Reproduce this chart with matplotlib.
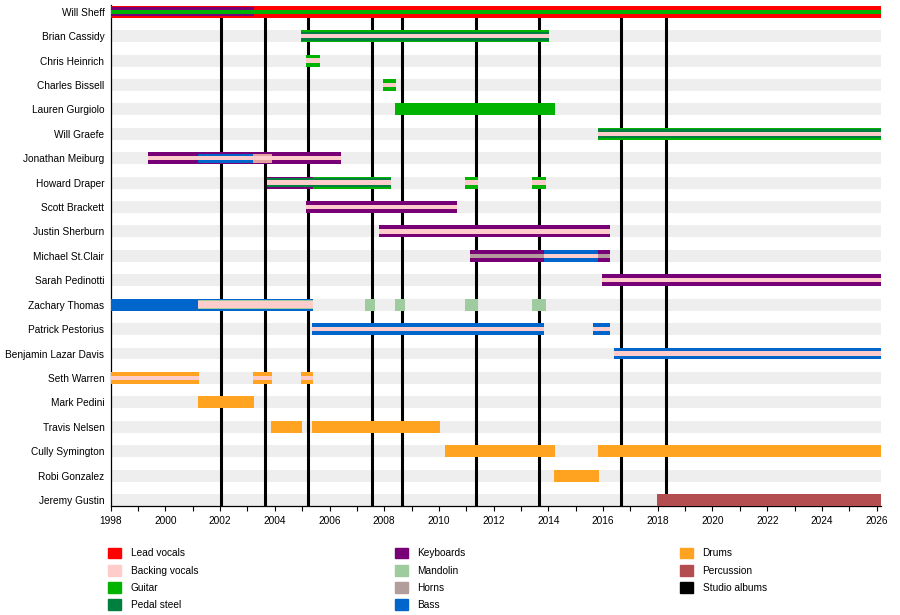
import matplotlib
matplotlib.use("Agg")
import matplotlib.pyplot as plt
import matplotlib.patches as mpatches
from matplotlib.ticker import MultipleLocator

plt.rcParams['font.family'] = ['Liberation Sans', 'DejaVu Sans']
FS = 7.3

members = ["Will Sheff", "Brian Cassidy", "Chris Heinrich", "Charles Bissell",
           "Lauren Gurgiolo", "Will Graefe", "Jonathan Meiburg", "Howard Draper",
           "Scott Brackett", "Justin Sherburn", "Michael St.Clair", "Sarah Pedinotti",
           "Zachary Thomas", "Patrick Pestorius", "Benjamin Lazar Davis", "Seth Warren",
           "Mark Pedini", "Travis Nelsen", "Cully Symington", "Robi Gonzalez", "Jeremy Gustin"]

colors = {
    "Lead vocals": "#ff0000",
    "Backing vocals": "#ffcccc",
    "Guitar": "#00b300",
    "Pedal steel": "#007f3f",
    "Keyboards": "#770077",
    "Mandolin": "#9fcc9f",
    "Horns": "#b39c9c",
    "Bass": "#0066cc",
    "Drums": "#ffa320",
    "Percussion": "#b34d50",
    "Studio albums": "#000000",
}
# short overlap section in Meiburg's bar
extra_colors = {"Horns/percussion": "#e3a0a0"}

start_year = 1998
end_year = 2026.16

# full height bars: (member, from, till, instrument)
main_bars = [
    ("Will Sheff", 1998, 2026.16, "Lead vocals"),
    ("Brian Cassidy", 2004.96, 2014.03, "Guitar"),
    ("Chris Heinrich", 2005.14, 2005.65, "Guitar"),
    ("Charles Bissell", 2007.96, 2008.42, "Guitar"),
    ("Lauren Gurgiolo", 2008.40, 2014.24, "Guitar"),
    ("Will Graefe", 2015.82, 2026.16, "Guitar"),
    ("Jonathan Meiburg", 1999.37, 2006.42, "Keyboards"),
    ("Howard Draper", 2003.72, 2005.38, "Keyboards"),
    ("Howard Draper", 2005.38, 2008.25, "Guitar"),
    ("Howard Draper", 2010.95, 2011.44, "Guitar"),
    ("Howard Draper", 2013.40, 2013.92, "Guitar"),
    ("Scott Brackett", 2005.14, 2010.66, "Keyboards"),
    ("Justin Sherburn", 2007.81, 2016.26, "Keyboards"),
    ("Michael St.Clair", 2011.14, 2013.85, "Keyboards"),
    ("Michael St.Clair", 2013.85, 2015.82, "Bass"),
    ("Michael St.Clair", 2015.82, 2016.26, "Keyboards"),
    ("Sarah Pedinotti", 2015.97, 2026.16, "Keyboards"),
    ("Zachary Thomas", 1998, 2005.38, "Bass"),
    ("Zachary Thomas", 2007.30, 2007.67, "Mandolin"),
    ("Zachary Thomas", 2008.40, 2008.76, "Mandolin"),
    ("Zachary Thomas", 2010.95, 2011.44, "Mandolin"),
    ("Zachary Thomas", 2013.40, 2013.92, "Mandolin"),
    ("Patrick Pestorius", 2005.36, 2013.85, "Bass"),
    ("Patrick Pestorius", 2015.64, 2016.26, "Bass"),
    ("Benjamin Lazar Davis", 2016.40, 2026.16, "Bass"),
    ("Seth Warren", 1998, 2001.23, "Drums"),
    ("Seth Warren", 2003.20, 2003.90, "Drums"),
    ("Seth Warren", 2004.96, 2005.39, "Drums"),
    ("Mark Pedini", 2001.19, 2003.24, "Drums"),
    ("Travis Nelsen", 2003.86, 2004.99, "Drums"),
    ("Travis Nelsen", 2005.36, 2010.04, "Drums"),
    ("Cully Symington", 2010.22, 2014.25, "Drums"),
    ("Cully Symington", 2015.82, 2026.16, "Drums"),
    ("Robi Gonzalez", 2014.20, 2015.86, "Drums"),
    ("Jeremy Gustin", 2017.98, 2026.16, "Percussion"),
]

# second instrument, drawn narrower on top
wide_stripes = [
    ("Will Sheff", 1998, 2003.24, "Keyboards"),
    ("Brian Cassidy", 2004.96, 2014.03, "Pedal steel"),
    ("Will Graefe", 2015.82, 2026.16, "Pedal steel"),
    ("Jonathan Meiburg", 2001.19, 2003.21, "Bass"),
    ("Jonathan Meiburg", 2003.21, 2003.88, "Horns/percussion"),
    ("Howard Draper", 2003.72, 2008.25, "Pedal steel"),
    ("Zachary Thomas", 2001.18, 2005.38, "Mandolin"),
]

# wider vocal band (only Zachary Thomas)
mid_stripes = [
    ("Zachary Thomas", 2001.18, 2005.38, "Backing vocals"),
]

# third instrument, thin centre line
thin_stripes = [
    ("Will Sheff", 1998, 2026.16, "Guitar"),
    ("Brian Cassidy", 2004.96, 2014.03, "Backing vocals"),
    ("Chris Heinrich", 2005.14, 2005.65, "Backing vocals"),
    ("Charles Bissell", 2007.96, 2008.42, "Backing vocals"),
    ("Will Graefe", 2015.82, 2026.16, "Backing vocals"),
    ("Jonathan Meiburg", 1999.37, 2006.42, "Backing vocals"),
    ("Howard Draper", 2003.72, 2008.25, "Backing vocals"),
    ("Howard Draper", 2010.95, 2011.44, "Backing vocals"),
    ("Howard Draper", 2013.40, 2013.92, "Backing vocals"),
    ("Scott Brackett", 2005.14, 2010.66, "Backing vocals"),
    ("Justin Sherburn", 2007.81, 2016.26, "Backing vocals"),
    ("Michael St.Clair", 2011.14, 2013.85, "Horns"),
    ("Michael St.Clair", 2013.85, 2015.82, "Backing vocals"),
    ("Michael St.Clair", 2015.82, 2016.26, "Horns"),
    ("Sarah Pedinotti", 2015.97, 2026.16, "Backing vocals"),
    ("Patrick Pestorius", 2005.36, 2013.85, "Backing vocals"),
    ("Patrick Pestorius", 2015.64, 2016.26, "Backing vocals"),
    ("Benjamin Lazar Davis", 2016.40, 2026.16, "Backing vocals"),
    ("Seth Warren", 1998, 2001.23, "Backing vocals"),
    ("Seth Warren", 2003.20, 2003.90, "Backing vocals"),
    ("Seth Warren", 2004.96, 2005.39, "Backing vocals"),
]

albums = [2002.03, 2003.65, 2005.22, 2007.57, 2008.66, 2011.35, 2013.66, 2016.67, 2018.31]

legend_cols = [["Lead vocals", "Backing vocals", "Guitar", "Pedal steel"],
               ["Keyboards", "Mandolin", "Horns", "Bass"],
               ["Drums", "Percussion", "Studio albums"]]


fig = plt.figure(figsize=(9, 6.15), dpi=100)
ax = fig.add_axes([110.7 / 900, 1 - 506 / 615, (881 - 110.7) / 900, (506 - 5.5) / 615])

row = {name: i for i, name in enumerate(members)}
BAR_H = 0.49


def col(inst):
    return colors.get(inst, extra_colors.get(inst))


# grey background strip for every row
ax.barh(range(len(members)), end_year - start_year, left=start_year, height=BAR_H,
        color="#eeeeee", linewidth=0, zorder=1)

for a in albums:
    ax.axvline(a, color="black", linewidth=2.2, zorder=2)

layers = [(main_bars, 1.0, 3), (wide_stripes, 0.74, 4),
          (mid_stripes, 0.6, 5), (thin_stripes, 0.36, 6)]
for layer, frac, z in layers:
    for name, s, e, inst in layer:
        ax.barh(row[name], e - s, left=s, height=BAR_H * frac, color=col(inst),
                linewidth=0, zorder=z)

ax.set_xlim(start_year, end_year)
ax.set_ylim(len(members) - 1 + 0.246, -0.254)

ax.set_yticks(range(len(members)))
ax.set_yticklabels(members, fontsize=FS)
ax.tick_params(axis="y", length=0, pad=4.5)

ax.xaxis.set_major_locator(MultipleLocator(2))
ax.xaxis.set_minor_locator(MultipleLocator(1))
ax.tick_params(axis="x", which="both", direction="out", length=3.5, width=0.8, labelsize=FS, pad=4)
ax.xaxis.set_major_formatter(plt.FuncFormatter(lambda v, p: f"{int(round(v))}"))

ax.spines["top"].set_visible(False)
ax.spines["right"].set_visible(False)
ax.spines["left"].set_linewidth(0.9)
ax.spines["bottom"].set_linewidth(0.9)

# three legend columns under the chart
for x0, labels in zip([108, 395, 680], legend_cols):
    handles = [mpatches.Patch(color=colors[l], label=l) for l in labels]
    fig.legend(handles=handles, loc="upper left", bbox_to_anchor=(x0 / 900, 1 - 547.5 / 615),
               frameon=False, fontsize=FS, borderpad=0, borderaxespad=0,
               handlelength=1.28, handleheight=1.28, handletextpad=0.95, labelspacing=0.62)

fig.savefig("out.png", dpi=100)
